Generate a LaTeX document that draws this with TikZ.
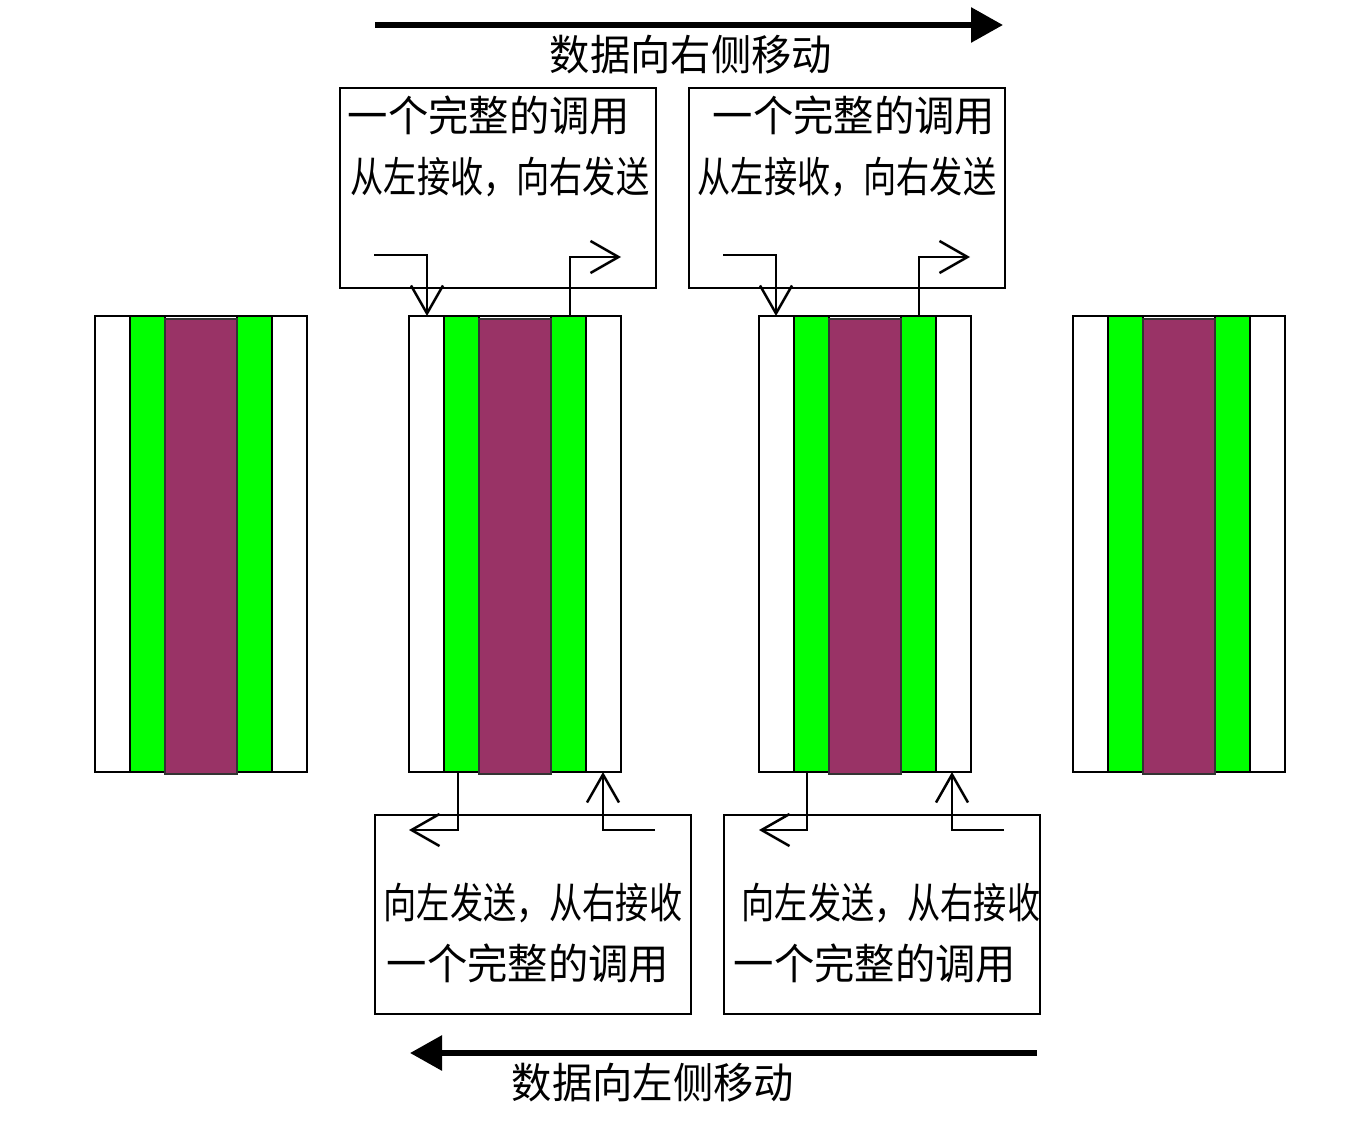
\documentclass[tikz,border=0pt]{standalone}
\usepackage{fontspec}
\newfontfamily\cjk{Noto Sans CJK SC}
\usetikzlibrary{arrows.meta}
\definecolor{stripegreen}{RGB}{0,255,0}
\definecolor{stripepurple}{RGB}{153,51,102}
\begin{document}
\begin{tikzpicture}[x=1pt,y=-1pt,
  colbox/.style={draw,line width=2pt,fill=white,minimum width=212pt,minimum height=456pt,inner sep=0pt,outer sep=0pt},
  callbox/.style={draw,line width=2pt,fill=white,minimum width=316pt,minimum height=200pt,inner sep=0pt,outer sep=0pt},
  gstripe/.style={draw=black,line width=1.5pt,fill=stripegreen},
  pstripe/.style={draw=black!80,line width=2pt,fill=stripepurple},
  small/.style={line width=2.5pt,-{Straight Barb[length=28pt,width=32pt,line width=2.5pt]}},
  big/.style={line width=6pt,-{Triangle[length=32pt,width=34pt]}},
  lbl/.style={inner sep=0pt,outer sep=0pt,font=\cjk\fontsize{42pt}{42pt}\selectfont},
]
\useasboundingbox[fill=white] (0,0) rectangle (1354,1126);

% columns
\foreach \n/\cx in {c1/201,c2/515,c3/865,c4/1179}{
  \node[colbox] (\n) at (\cx,544) {};
  \path[gstripe] (\cx-71,316) rectangle (\cx-36,772);
  \path[gstripe] (\cx+36,316) rectangle (\cx+71,772);
  \path[pstripe] (\cx-36,319) rectangle (\cx+36,774);
}

% call boxes
\node[callbox] (t1) at (498,188) {};
\node[callbox] (t2) at (847,188) {};
\node[callbox,minimum height=199pt] (b1) at (533,914.5) {};
\node[callbox,minimum height=199pt] (b2) at (882,914.5) {};

% texts in boxes
\node[lbl] (t1a) at (489,115) {\scalebox{0.96}[1]{一个完整的调用}};
\node[lbl] (t1b) at (500,177) {\scalebox{0.79}[1]{从左接收，向右发送}};
\node[lbl] (t2a) at (854,115) {\scalebox{0.96}[1]{一个完整的调用}};
\node[lbl] (t2b) at (847,177) {\scalebox{0.79}[1]{从左接收，向右发送}};
\node[lbl] (b1a) at (533,903) {\scalebox{0.79}[1]{向左发送，从右接收}};
\node[lbl] (b1b) at (528,963) {\scalebox{0.96}[1]{一个完整的调用}};
\node[lbl] (b2a) at (891,903) {\scalebox{0.79}[1]{向左发送，从右接收}};
\node[lbl] (b2b) at (875,963) {\scalebox{0.96}[1]{一个完整的调用}};

% titles
\node[lbl] (tt) at (691,55) {\scalebox{0.96}[1]{数据向右侧移动}};
\node[lbl] (bt) at (653,1083) {\scalebox{0.96}[1]{数据向左侧移动}};

% big arrows
\coordinate (ra) at (375,25);
\coordinate (rb) at (1003,25);
\coordinate (la) at (1037,1053);
\coordinate (lb) at (410,1053);
\draw[big] (ra) -- (rb);
\draw[big] (la) -- (lb);

% small arrows, top
\coordinate (s1) at (374,255);
\coordinate (e1) at (621,257);
\coordinate (s2) at (723,255);
\coordinate (e2) at (970,257);
\draw[small] (s1) -| ([xshift=18pt]c2.north west);
\draw[small] ([xshift=161pt]c2.north west) |- (e1);
\draw[small] (s2) -| ([xshift=17pt]c3.north west);
\draw[small] ([xshift=160pt]c3.north west) |- (e2);

% small arrows, bottom
\coordinate (e3) at (409,830);
\coordinate (s3) at (655,830);
\coordinate (e4) at (759,830);
\coordinate (s4) at (1004,830);
\draw[small] ([xshift=49pt]c2.south west) |- (e3);
\draw[small] (s3) -| ([xshift=194pt]c2.south west);
\draw[small] ([xshift=48pt]c3.south west) |- (e4);
\draw[small] (s4) -| ([xshift=193pt]c3.south west);
\end{tikzpicture}
\end{document}
